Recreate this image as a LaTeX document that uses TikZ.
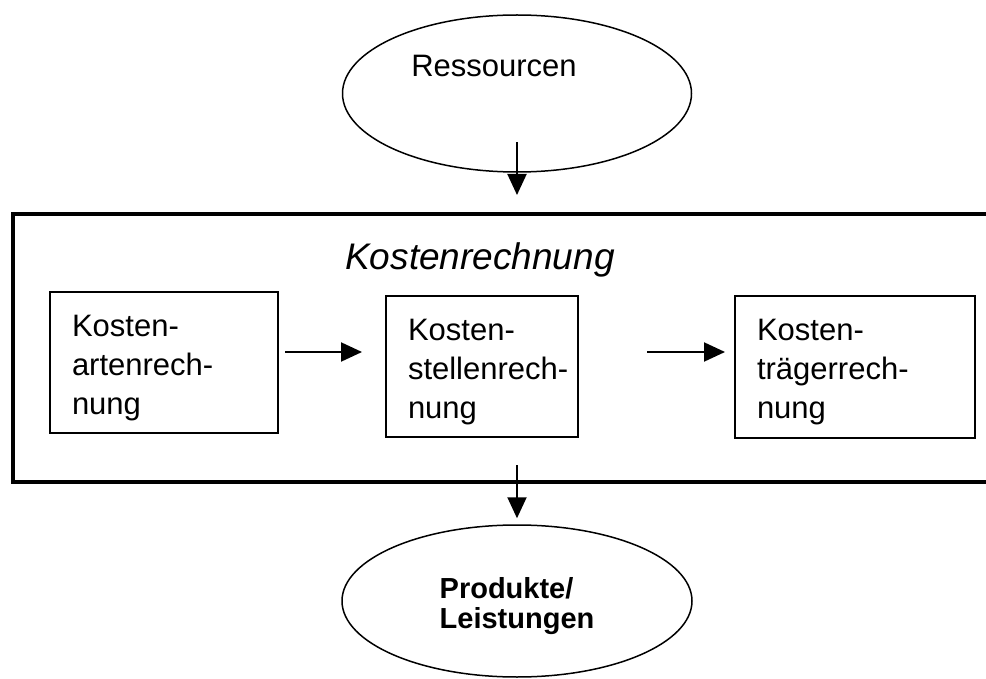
\documentclass[tikz,border=0pt]{standalone}
\usepackage{fontspec}
\setmainfont{Liberation Sans}
\usetikzlibrary{shapes.geometric,arrows.meta}
\newcommand{\firstline}[1]{\rule{0pt}{#1}}
\begin{document}
\begin{tikzpicture}[x=1pt,y=-1pt,
  oval/.style={ellipse,draw,line width=1.5pt,inner sep=0pt},
  stepbox/.style={draw,line width=2pt,inner ysep=0pt,inner xsep=22pt,align=left,
    font=\fontsize{31}{39}\selectfont,minimum height=141pt},
  frame/.style={draw,line width=4.5pt,inner sep=0pt},
  arr/.style={line width=2pt,-{Triangle[length=21pt,width=19pt]}},
]
\useasboundingbox (0,0) rectangle (986,679);
\clip (0,0) rectangle (986,679);

% input and output
\node[oval,minimum width=349pt,minimum height=157pt] (res) at (517,93.5) {};
\node[anchor=base,font=\fontsize{31}{38}\selectfont] (restxt) at (494,77) {Ressourcen};
\node[oval,minimum width=350pt,minimum height=152pt,align=left,
      font=\bfseries\fontsize{29}{30}\selectfont] (prod) at (517,601)
      {\firstline{31pt}Produkte/\\Leistungen};

% cost accounting frame, open to the right
\node[frame,minimum width=1087pt,minimum height=268pt] (frame) at (556.5,348) {};
\node[anchor=base,font=\itshape\fontsize{37}{40}\selectfont] (title) at (480,270) {Kostenrechnung};

% the three stages
\node[stepbox,text width=184pt] (kar) at (164,362.5)
  {\firstline{32pt}\mbox{Kosten-}\\\mbox{artenrech-}\\nung};
\node[stepbox,text width=148pt] (ksr) at (482,366.5)
  {\firstline{32pt}\mbox{Kosten-}\\\mbox{stellenrech-}\\nung};
\node[stepbox,text width=196pt] (ktr) at (855,367)
  {\firstline{32pt}\mbox{Kosten-}\\\mbox{trägerrech-}\\nung};

% connectors
\coordinate (ein) at (517,195);
\coordinate (aus) at (517,465);
\coordinate (hy) at (0,352);
\draw[arr,shorten <=49pt] (res.center) -- (ein);
\draw[arr,shorten >=6pt] (aus) -- (prod.north);
\draw[arr,shorten <=6pt,shorten >=23pt] (kar.east |- hy) -- (ksr.west |- hy);
\draw[arr,shorten <=68pt,shorten >=9pt] (ksr.east |- hy) -- (ktr.west |- hy);
\end{tikzpicture}
\end{document}
